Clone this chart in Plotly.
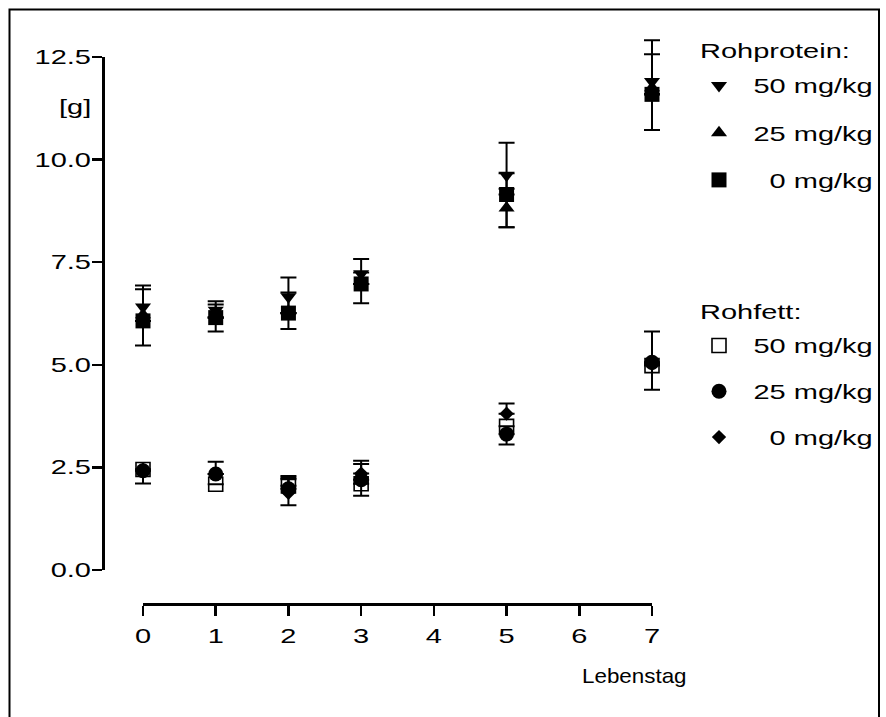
import plotly.graph_objects as go

# ---------------- data ----------------
days = [0, 1, 2, 3, 5, 7]

# Rohprotein groups
prot_50 = [6.41, 6.33, 6.66, 7.22, 9.62, 11.90]
prot_50_up = [0.52, 0.22, 0.47, 0.36, 0.79, 1.01]
prot_50_dn = [0.34, 0.18, 0.40, 0.25, 0.47, 0.31]

prot_25 = [6.22, 6.20, 6.30, 7.05, 8.82, 11.75]
prot_25_up = [0.62, 0.27, 0.46, 0.20, 0.47, 0.82]
prot_25_dn = [0.15, 0.05, 0.04, 0.08, 0.47, 0.16]

prot_0 = [6.07, 6.15, 6.26, 6.97, 9.15, 11.59]
prot_0_up = [0.0, 0.0, 0.0, 0.0, 0.52, 0.0]
prot_0_dn = [0.60, 0.34, 0.39, 0.47, 0.80, 0.87]

# Rohfett groups
fett_50 = [2.45, 2.09, 2.05, 2.10, 3.50, 4.98]
fett_50_up = [0.0, 0.0, 0.24, 0.0, 0.0, 0.0]
fett_50_dn = [0.34, 0.0, 0.0, 0.29, 0.0, 0.59]

fett_25 = [2.42, 2.34, 1.98, 2.20, 3.31, 5.06]
fett_25_up = [0.0, 0.30, 0.27, 0.38, 0.0, 0.75]
fett_25_dn = [0.0, 0.0, 0.0, 0.0, 0.25, 0.0]

fett_0 = [2.45, 2.34, 1.88, 2.35, 3.81, 5.02]
fett_0_up = [0.0, 0.0, 0.33, 0.31, 0.25, 0.0]
fett_0_dn = [0.0, 0.0, 0.30, 0.0, 0.0, 0.0]

group_titles = ["Rohprotein:", "Rohfett:"]
series_names = ["50 mg/kg", "25 mg/kg", "\u00a0\u00a00 mg/kg"]
x_ticks = [0, 1, 2, 3, 4, 5, 6, 7]
y_ticks = [0, 2.5, 5, 7.5, 10, 12.5]
y_ticktext = ["0.0", "2.5", "5.0", "7.5", "10.0", "12.5"]
y_unit = "[g]"
x_title = "Lebenstag"

# ---------------- styling / layout ----------------
W, H = 886, 717
FONT = "Liberation Sans, Arial, sans-serif"
FS = 20
STRETCH = 1.45       # reference text is horizontally widened
STRETCH_XTITLE = 1.12

# pixel frame of the value axes
X_MIN, X_MAX = 0, 7
Y_MIN, Y_MAX = 0, 12.5
PX_LEFT, PX_RIGHT = 143, 652     # x = X_MIN / X_MAX
PX_BOTTOM, PX_TOP = 570, 57      # y = Y_MIN / Y_MAX


def fx(px):
    """page pixel -> paper fraction"""
    return px / W


def fy(py):
    return 1 - py / H


# full-figure overlay axes with the same value->pixel mapping (so error bars are not clipped)
xu = (X_MAX - X_MIN) / (PX_RIGHT - PX_LEFT)
yu = (Y_MAX - Y_MIN) / (PX_BOTTOM - PX_TOP)
x2_range = [X_MIN - PX_LEFT * xu, X_MIN + (W - PX_LEFT) * xu]
y2_range = [Y_MIN - (H - PX_BOTTOM) * yu, Y_MIN + PX_BOTTOM * yu]

series = [
    # name, y, up, dn, symbol, size, fill, legend, rank
    (series_names[0], prot_50, prot_50_up, prot_50_dn, "triangle-down", 14, "black", "legend", 1),
    (series_names[1], prot_25, prot_25_up, prot_25_dn, "triangle-up", 14, "black", "legend", 2),
    (series_names[2], prot_0, prot_0_up, prot_0_dn, "square", 15, "black", "legend", 3),
    (series_names[0], fett_50, fett_50_up, fett_50_dn, "square", 14, "white", "legend2", 4),
    (series_names[2], fett_0, fett_0_up, fett_0_dn, "diamond", 11, "black", "legend2", 6),
    (series_names[1], fett_25, fett_25_up, fett_25_dn, "circle", 15, "black", "legend2", 5),
]

fig = go.Figure()

# error bars first (below all markers)
for name, y, up, dn, sym, size, fill, leg, rank in series:
    fig.add_trace(go.Scatter(
        x=days, y=y, mode="markers", xaxis="x2", yaxis="y2",
        marker=dict(size=2, opacity=0),
        error_y=dict(type="data", symmetric=False, array=up, arrayminus=dn,
                     color="black", thickness=2, width=8),
        showlegend=False, cliponaxis=False, hoverinfo="skip",
    ))

# markers
for name, y, up, dn, sym, size, fill, leg, rank in series:
    fig.add_trace(go.Scatter(
        x=days, y=y, mode="markers", name=name,
        marker=dict(symbol=sym, size=size, color=fill,
                    line=dict(color="black", width=1.6 if fill == "white" else 0)),
        legend=leg, legendrank=rank, legendgroup="g%d" % rank,
        cliponaxis=False,
    ))

axis_common = dict(
    showgrid=False, zeroline=False, showline=True, linecolor="black", linewidth=2.5,
    ticks="outside", ticklen=10, tickwidth=2.5, tickcolor="black",
    tickfont=dict(family=FONT, size=FS, color="black"), automargin=False,
)

leg_common = dict(
    xanchor="left", yanchor="top", bgcolor="rgba(0,0,0,0)",
    font=dict(family=FONT, size=FS, color="black"),
    itemwidth=59, itemclick=False, itemdoubleclick=False,
)

txt = dict(family=FONT, size=FS, color="black")

fig.update_layout(
    width=W, height=H, autosize=False,
    margin=dict(l=0, r=0, t=0, b=0, pad=0, autoexpand=False),
    paper_bgcolor="white", plot_bgcolor="rgba(0,0,0,0)",
    font=txt,
    xaxis=dict(axis_common, domain=[fx(PX_LEFT), fx(PX_RIGHT)], range=[X_MIN, X_MAX],
               tickmode="array", tickvals=x_ticks, ticklabelstandoff=4,
               anchor="free", position=fy(604)),
    yaxis=dict(axis_common, domain=[fy(PX_BOTTOM), fy(PX_TOP)], range=[Y_MIN, Y_MAX],
               tickmode="array", tickvals=y_ticks, ticktext=y_ticktext,
               ticklabelstandoff=-3, anchor="free", position=fx(103)),
    xaxis2=dict(domain=[0, 1], range=x2_range, visible=False, anchor="y2", fixedrange=True),
    yaxis2=dict(domain=[0, 1], range=y2_range, visible=False, anchor="x2", fixedrange=True),
    legend=dict(leg_common, x=fx(684.5), y=fy(66), tracegroupgap=18.2),
    legend2=dict(leg_common, x=fx(684.5), y=fy(326), tracegroupgap=16.8),
    annotations=[
        dict(text=y_unit, xref="paper", yref="paper", x=fx(93), y=fy(107),
             xanchor="right", yanchor="middle", align="right", showarrow=False, font=txt),
        dict(text=x_title, xref="paper", yref="paper", x=fx(580), y=fy(676),
             xanchor="left", yanchor="middle", align="left", showarrow=False, font=txt),
        dict(text=group_titles[0], xref="paper", yref="paper", x=fx(698), y=fy(51),
             xanchor="left", yanchor="middle", align="left", showarrow=False, font=txt),
        dict(text=group_titles[1], xref="paper", yref="paper", x=fx(698), y=fy(312),
             xanchor="left", yanchor="middle", align="left", showarrow=False, font=txt),
    ],
    shapes=[
        dict(type="rect", xref="paper", yref="paper",
             x0=fx(9.5), x1=fx(879), y0=-0.05, y1=fy(9.5),
             line=dict(color="black", width=2), fillcolor="rgba(0,0,0,0)"),
    ],
)

post = """
document.body.style.margin = '0';
var gd = document.getElementById('{plot_id}');
gd.querySelectorAll('.infolayer [clip-path]').forEach(function(e){ e.removeAttribute('clip-path'); });
var S = %s, S2 = %s, XT = %s;
gd.querySelectorAll('svg text').forEach(function(t){
  var s = (t.textContent === XT) ? S2 : S;
  var ax = parseFloat(t.getAttribute('x') || '0');
  var tr = t.getAttribute('transform') || '';
  t.setAttribute('transform', tr + ' translate(' + ax + ',0) scale(' + s + ',1) translate(' + (-ax) + ',0)');
});
""" % (STRETCH, STRETCH_XTITLE, '"' + x_title + '"')

fig.write_html("out.html", config={"displayModeBar": False, "staticPlot": True}, post_script=post)
